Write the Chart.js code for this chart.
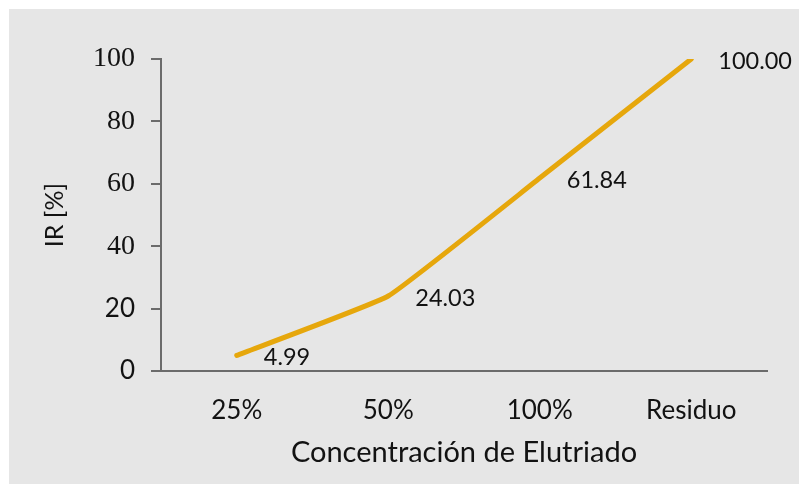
<!DOCTYPE html>
<html>
<head>
<meta charset="utf-8">
<script src="https://cdn.jsdelivr.net/npm/chart.js@4/dist/chart.umd.min.js"></script>
<style>
  html, body { margin: 0; padding: 0; background: #ffffff; }
  #panel {
    position: absolute;
    left: 9px;
    top: 9px;
    width: 790px;
    height: 475px;
    background: #e6e6e6;
  }
</style>
</head>
<body>
<div id="panel"><canvas id="ir-chart"></canvas></div>
<script>
const categories = ['25%', '50%', '100%', 'Residuo'];
const irValues = [4.99, 24.03, 61.84, 100.00];
const yTicks = [0, 20, 40, 60, 80, 100];

const AXIS_COLOR = '#6b6b6b';
const TEXT_COLOR = '#121212';
const LINE_COLOR = '#e6a70c';
const SANS = 'Lato, "Open Sans", sans-serif';
const SERIF = '"Liberation Serif", "DejaVu Serif", serif';

// value labels to the right of each point
const pointLabels = {
  id: 'pointLabels',
  afterDatasetsDraw(chart) {
    const ctx = chart.ctx;
    const meta = chart.getDatasetMeta(0);
    ctx.save();
    ctx.font = '23.5px ' + SANS;
    ctx.fillStyle = TEXT_COLOR;
    ctx.textAlign = 'left';
    ctx.textBaseline = 'middle';
    meta.data.forEach((pt, i) => {
      const value = chart.data.datasets[0].data[i];
      ctx.fillText(value.toFixed(2), pt.x + 27, pt.y + 2);
    });
    ctx.restore();
  },
};

const chart = new Chart(document.querySelector('#ir-chart'), {
  type: 'line',
  data: {
    labels: categories,
    datasets: [{
      data: irValues,
      borderColor: LINE_COLOR,
      borderWidth: 5,
      borderCapStyle: 'round',
      borderJoinStyle: 'round',
      tension: 0.1,
      pointRadius: 0,
      fill: false,
    }],
  },
  options: {
    responsive: true,
    maintainAspectRatio: false,
    animation: false,
    events: [],
    layout: {
      padding: { left: 0, top: 50, right: 32, bottom: 0 },
    },
    plugins: {
      legend: { display: false },
      tooltip: { enabled: false },
    },
    scales: {
      x: {
        offset: true,
        grid: { display: false },
        border: { display: true, color: AXIS_COLOR, width: 2 },
        ticks: {
          color: TEXT_COLOR,
          font: { family: SANS, size: 26 },
          padding: 16,
        },
        title: {
          display: true,
          text: 'Concentración de Elutriado',
          color: TEXT_COLOR,
          font: { family: SANS, size: 29 },
          padding: { top: 0, bottom: 14 },
        },
        afterFit(scale) {
          scale.height = 113;
        },
      },
      y: {
        min: 0,
        max: 100,
        afterBuildTicks(scale) {
          scale.ticks = yTicks.map((v) => ({ value: v }));
        },
        grid: {
          display: true,
          drawOnChartArea: false,
          drawTicks: true,
          tickLength: 10,
          color: AXIS_COLOR,
          lineWidth: 2,
        },
        border: { display: true, color: AXIS_COLOR, width: 2 },
        ticks: {
          color: TEXT_COLOR,
          padding: 16,
          font(ctx) {
            const v = ctx.tick ? ctx.tick.value : 100;
            return v <= 20
              ? { family: SANS, size: 26 }
              : { family: SERIF, size: 28 };
          },
        },
        title: {
          display: true,
          text: 'IR [%]',
          color: TEXT_COLOR,
          font: { family: SANS, size: 25 },
          padding: { top: 31, bottom: 0 },
        },
        afterFit(scale) {
          scale.width = 152;
        },
      },
    },
  },
  plugins: [pointLabels],
});
</script>
</body>
</html>
